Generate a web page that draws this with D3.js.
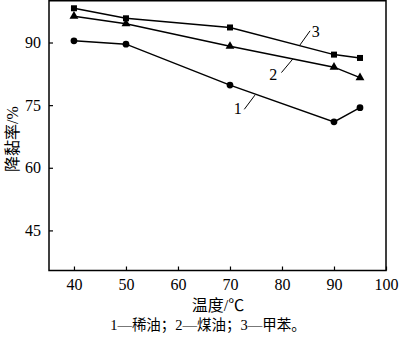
<!DOCTYPE html>
<html>
<head>
<meta charset="utf-8">
<script src="https://cdn.jsdelivr.net/npm/d3@7"></script>
<style>
  html, body { margin: 0; padding: 0; background: #fff; }
  svg { display: block; }
  .num { font-family: "Liberation Serif", "DejaVu Serif", serif; }
  .cjk { font-family: "Liberation Serif", "Noto Sans CJK SC", serif; }
</style>
</head>
<body>
<svg id="chart" width="400" height="338"></svg>
<script>
// Temperature (°C) and viscosity reduction rate (%) for three diluents
const temperatures = [40, 50, 70, 90, 95];
const series1 = [90.4, 89.6, 79.8, 71.0, 74.4];   // 稀油
const series2 = [96.3, 94.5, 89.1, 84.1, 81.6];   // 煤油
const series3 = [98.2, 95.8, 93.6, 87.1, 86.3];   // 甲苯
const xTicks = [40, 50, 60, 70, 80, 90, 100];
const yTicks = [45, 60, 75, 90];
const seriesNames = ["1", "2", "3"];

const svg = d3.select("#chart");
const plot = { left: 49, right: 386, top: 0.75, bottom: 270.5 };

const x = d3.scaleLinear().domain([35.2, 100]).range([plot.left, plot.right]);
const y = d3.scaleLinear().domain([35.4, 100]).range([plot.bottom, plot.top]);

// Axes with inward ticks
const xAxis = d3.axisBottom(x).tickValues(xTicks).tickSizeInner(-4).tickSizeOuter(0).tickPadding(8);
const yAxis = d3.axisLeft(y).tickValues(yTicks).tickSizeInner(-4).tickSizeOuter(0).tickPadding(8);

const gx = svg.append("g").attr("transform", `translate(0,${plot.bottom})`).call(xAxis);
const gy = svg.append("g").attr("transform", `translate(${plot.left},0)`).call(yAxis);
[gx, gy].forEach(g => {
  g.select(".domain").remove();
  g.selectAll(".tick line").attr("stroke", "#000").attr("stroke-width", 1.2);
  g.selectAll(".tick text").attr("class", "num").attr("font-size", 16).attr("fill", "#000");
});
gx.selectAll(".tick text").attr("dy", "0.71em");

// Frame
svg.append("rect")
  .attr("x", plot.left).attr("y", plot.top)
  .attr("width", plot.right - plot.left).attr("height", plot.bottom - plot.top)
  .attr("fill", "none").attr("stroke", "#000").attr("stroke-width", 1.5);

const line = d3.line().x(d => x(d[0])).y(d => y(d[1]));
const allSeries = [series1, series2, series3];
const symbols = [d3.symbolCircle, d3.symbolTriangle, d3.symbolSquare];
const symSizes = [36, 34, 36];

allSeries.forEach((vals, i) => {
  const pts = temperatures.map((t, j) => [t, vals[j]]);
  svg.append("path").datum(pts).attr("d", line)
    .attr("fill", "none").attr("stroke", "#000").attr("stroke-width", 1.5);
  svg.append("g").selectAll("path").data(pts).join("path")
    .attr("transform", d => `translate(${x(d[0])},${y(d[1])})`)
    .attr("d", d3.symbol().type(symbols[i]).size(symSizes[i]))
    .attr("fill", "#000");
});

// Series callouts: a short leader below each curve ending at its number
const callouts = [
  { name: seriesNames[0], from: [72.75, 74.0], to: [74.8, 77.4], label: [71.5, 74.3] },
  { name: seriesNames[1], from: [79.9, 82.8], to: [82.05, 86.0], label: [78.3, 82.4] },
  { name: seriesNames[2], from: [83.45, 89.4], to: [85.4, 92.8], label: [86.5, 92.7] }
];
callouts.forEach(c => {
  svg.append("line")
    .attr("x1", x(c.from[0])).attr("y1", y(c.from[1]))
    .attr("x2", x(c.to[0])).attr("y2", y(c.to[1]))
    .attr("stroke", "#000").attr("stroke-width", 1);
  svg.append("text").attr("class", "num").attr("font-size", 16)
    .attr("x", x(c.label[0])).attr("y", y(c.label[1]))
    .attr("dy", "0.35em").attr("text-anchor", "middle").text(c.name);
});

// Axis titles
svg.append("text").attr("class", "cjk").attr("font-size", 16)
  .attr("x", 218).attr("y", 311).attr("text-anchor", "middle").text("温度/℃");
svg.append("text").attr("class", "cjk").attr("font-size", 16)
  .attr("transform", "translate(18,139) rotate(-90)")
  .attr("text-anchor", "middle").text("降黏率/%");

// Caption
svg.append("text").attr("class", "cjk").attr("font-size", 14.5)
  .attr("x", 208).attr("y", 330).attr("text-anchor", "middle").text("1—稀油；2—煤油；3—甲苯。");
</script>
</body>
</html>
